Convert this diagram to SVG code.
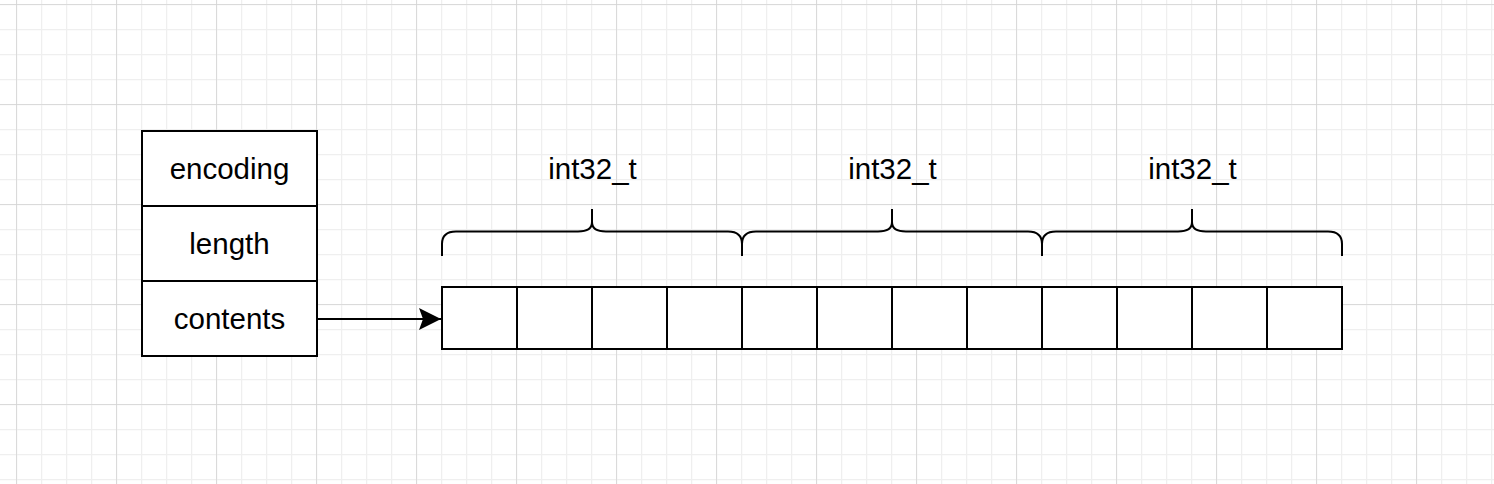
<svg xmlns="http://www.w3.org/2000/svg" width="1494" height="484" viewBox="0 0 1494 484">
  <defs>
    <pattern id="minor" x="16" y="4" width="25" height="25" patternUnits="userSpaceOnUse">
      <path d="M0.5,0 V25 M0,0.5 H25" fill="none" stroke="#efefef" stroke-width="1.5"/>
    </pattern>
    <pattern id="major" x="16" y="4" width="100" height="100" patternUnits="userSpaceOnUse">
      <path d="M0,0 V100 M0,0 H100" fill="none" stroke="#d4d4d4" stroke-width="1.5"/>
    </pattern>
    <marker id="arrow" viewBox="0 0 24 24" markerWidth="24" markerHeight="24" refX="23" refY="12" orient="auto" markerUnits="userSpaceOnUse">
      <path d="M1,1 L23,12 L1,23 L5,12 Z" fill="#000" stroke="none"/>
    </marker>
  </defs>
  <style>
    .box { fill: #ffffff; stroke: #000000; stroke-width: 2; }
    .cell { fill: #ffffff; stroke: #000000; stroke-width: 2; }
    .brace { fill: none; stroke: #000000; stroke-width: 2; }
    .lbl { font-family: "Liberation Sans", Arial, Helvetica, sans-serif; font-size: 29.5px; fill: #000000; text-anchor: middle; }
    .edge { fill: none; stroke: #000000; stroke-width: 2; }
  </style>
  <rect x="0" y="0" width="1494" height="484" fill="#ffffff"/>
  <rect x="0" y="0" width="1494" height="484" fill="url(#minor)"/>
  <rect x="0" y="0" width="1494" height="484" fill="url(#major)"/>

  <g id="struct">
    <g id="encoding">
      <rect class="box" x="142" y="131" width="175" height="75"/>
      <text class="lbl" x="229.5" y="179">encoding</text>
    </g>
    <g id="length">
      <rect class="box" x="142" y="206" width="175" height="75"/>
      <text class="lbl" x="229.5" y="254">length</text>
    </g>
    <g id="contents">
      <rect class="box" x="142" y="281" width="175" height="75"/>
      <text class="lbl" x="229.5" y="329">contents</text>
    </g>
  </g>

  <g id="array">
    <rect class="cell" x="442" y="287" width="75" height="62"/>
    <rect class="cell" x="517" y="287" width="75" height="62"/>
    <rect class="cell" x="592" y="287" width="75" height="62"/>
    <rect class="cell" x="667" y="287" width="75" height="62"/>
    <rect class="cell" x="742" y="287" width="75" height="62"/>
    <rect class="cell" x="817" y="287" width="75" height="62"/>
    <rect class="cell" x="892" y="287" width="75" height="62"/>
    <rect class="cell" x="967" y="287" width="75" height="62"/>
    <rect class="cell" x="1042" y="287" width="75" height="62"/>
    <rect class="cell" x="1117" y="287" width="75" height="62"/>
    <rect class="cell" x="1192" y="287" width="75" height="62"/>
    <rect class="cell" x="1267" y="287" width="75" height="62"/>
  </g>

  <g id="brace1">
    <path class="brace" d="M442,256 V244 Q442,231.5 456,231.5 H578 Q592,231.5 592,222 V209 M592,222 Q592,231.5 606,231.5 H728 Q742,231.5 742,244 V256"/>
    <text class="lbl" x="592.5" y="178.5">int32_t</text>
  </g>
  <g id="brace2">
    <path class="brace" d="M742,256 V244 Q742,231.5 756,231.5 H878 Q892,231.5 892,222 V209 M892,222 Q892,231.5 906,231.5 H1028 Q1042,231.5 1042,244 V256"/>
    <text class="lbl" x="892.5" y="178.5">int32_t</text>
  </g>
  <g id="brace3">
    <path class="brace" d="M1042,256 V244 Q1042,231.5 1056,231.5 H1178 Q1192,231.5 1192,222 V209 M1192,222 Q1192,231.5 1206,231.5 H1328 Q1342,231.5 1342,244 V256"/>
    <text class="lbl" x="1192.5" y="178.5">int32_t</text>
  </g>

  <g id="connectors">
    <path class="edge" d="M317,319 H441" marker-end="url(#arrow)"/>
  </g>
</svg>
